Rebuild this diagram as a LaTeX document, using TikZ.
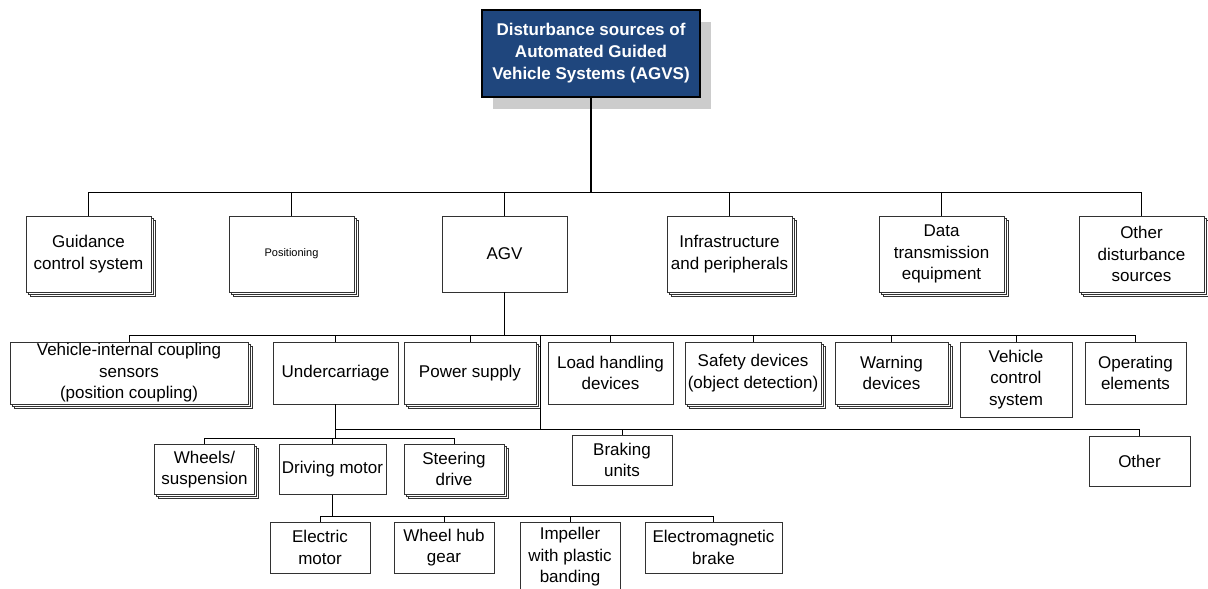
\documentclass[tikz,border=0pt]{standalone}
\usepackage{fontspec}
\setmainfont{Liberation Sans}
\usetikzlibrary{shadows}
\definecolor{agvblue}{RGB}{31,70,125}
\definecolor{edgegray}{RGB}{50,50,50}
\begin{document}
\begin{tikzpicture}[x=1pt,y=-1pt,
  box/.style={draw=edgegray, line width=0.9pt, fill=white, inner sep=0pt, align=center,
    font=\fontsize{17}{21.5}\selectfont, text=black},
  stack/.style={
    general shadow={shadow xshift=4pt, shadow yshift=-4pt, fill=white, draw=edgegray, line width=0.8pt},
    general shadow={shadow xshift=2pt, shadow yshift=-2pt, fill=white, draw=edgegray, line width=0.8pt}},
  topbox/.style={draw=black, line width=1.6pt, fill=agvblue, inner sep=0pt, align=center,
    text=white, font=\bfseries\fontsize{17}{22}\selectfont,
    general shadow={shadow xshift=11pt, shadow yshift=-12pt, fill=black!20, draw=none}},
  link/.style={draw=black, line width=0.9pt},
  trunk/.style={draw=black, line width=1.4pt}
]
\clip (0,0) rectangle (1208,589);
\fill[white] (0,0) rectangle (1208,589);

% top
\node[topbox, minimum width=218pt, minimum height=87pt] (top) at (591,53.5)
  {Disturbance sources of\\Automated Guided\\Vehicle Systems (AGVS)};

% level 1
\tikzset{l1/.style={box, minimum width=125pt, minimum height=76pt}}
\node[l1, stack] (gcs) at (88.5,254) {Guidance\\control system};
\node[l1, stack, font=\fontsize{11}{13}\selectfont] (pos) at (291.5,254) {Positioning};
\node[l1] (agv) at (504.5,254) {AGV};
\node[l1, stack] (infra) at (729.5,254) {Infrastructure\\and peripherals};
\node[l1, stack] (data) at (941.5,254) {Data\\transmission\\equipment};
\node[l1, stack] (othersrc) at (1141.5,254) {Other\\disturbance\\sources};

% level 2
\tikzset{l2/.style={box, minimum height=62pt}}
\node[l2, stack, minimum width=238pt] (vic) at (129,373) {Vehicle-internal coupling\\sensors\\(position coupling)};
\node[l2, minimum width=125pt] (under) at (335.5,373) {Undercarriage};
\node[l2, stack, minimum width=132pt] (power) at (470,373) {Power supply};
\node[l2, minimum width=125pt] (load) at (610.5,373) {Load handling\\devices};
\node[l2, stack, minimum width=136pt] (safety) at (753,373) {Safety devices\\(object detection)};
\node[l2, stack, minimum width=113pt] (warn) at (891.5,373) {Warning\\devices};
\node[box, minimum width=112pt, minimum height=75pt] (vcs) at (1016,379.5) {Vehicle\\control\\system};
\node[l2, minimum width=101pt] (oper) at (1135.5,373) {Operating\\elements};

% level 3
\tikzset{l3/.style={box, minimum height=50pt}}
\node[l3, stack, minimum width=100pt] (wheels) at (204.5,469.5) {Wheels/\\suspension};
\node[l3, minimum width=107pt] (drive) at (332.5,469.5) {Driving motor};
\node[l3, stack, minimum width=100pt] (steer) at (454,469) {Steering\\drive};
\node[l3, minimum width=100pt] (brake) at (622,460) {Braking\\units};
\node[l3, minimum width=101pt] (other) at (1139.5,461) {Other};

% level 4
\tikzset{l4/.style={box, minimum height=51pt}}
\node[l4, minimum width=100pt] (elec) at (320,547.5) {Electric\\motor};
\node[l4, minimum width=100pt] (hub) at (444,547.5) {Wheel hub\\gear};
\node[box, minimum width=100pt, minimum height=70pt] (imp) at (570,557) {Impeller\\with plastic\\banding};
\node[l4, minimum width=137pt] (emb) at (713.5,547.5) {Electromagnetic\\brake};

% connectors level 1
\coordinate (bus1) at (0,192);
\draw[trunk, line width=1.8pt] (top.south) -- (top.south |- bus1);
\foreach \n in {gcs,pos,agv,infra,data,othersrc}
  \draw[link] (\n.north) |- (top.south |- bus1);

% connectors level 2
\coordinate (bus2) at (0,335);
\draw[trunk] (agv.south) -- (agv.south |- bus2);
\foreach \n in {vic,under,power,load,safety,warn,vcs,oper}
  \draw[link] (\n.north) |- (agv.south |- bus2);

% junction to braking units / other
\coordinate (j1) at (540,335);
\coordinate (j2) at (540,429);
\draw[link] (j1) -- (j2) -- (under.south |- j2);
\draw[link] (brake.north) |- (j2);
\draw[link] (other.north) |- (j2);

% connectors level 3
\coordinate (bus3) at (0,438);
\draw[trunk] (under.south) -- (under.south |- bus3);
\foreach \n in {wheels,drive,steer}
  \draw[link] (\n.north) |- (under.south |- bus3);

% connectors level 4
\coordinate (bus4) at (0,516);
\draw[trunk] (drive.south) -- (drive.south |- bus4);
\foreach \n in {elec,hub,imp,emb}
  \draw[link] (\n.north) |- (drive.south |- bus4);
\end{tikzpicture}
\end{document}
